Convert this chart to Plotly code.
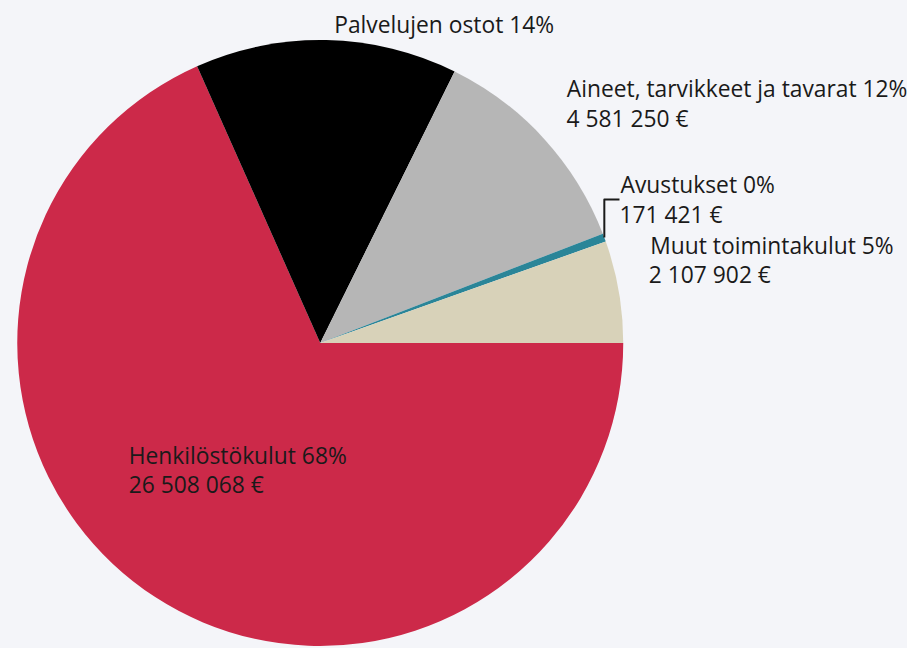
import plotly.graph_objects as go

categories = ["Henkilöstökulut", "Palvelujen ostot", "Aineet, tarvikkeet ja tavarat",
              "Avustukset", "Muut toimintakulut"]
values = [26508068, 5420120, 4581250, 171421, 2107902]
colors = ["#CC2949", "#000000", "#B6B6B6", "#2A8598", "#D8D2B9"]
text_positions = ["inside", "outside", "outside", "outside", "outside"]

# no-break spaces that push the centred value line to the left edge of the label
pad_counts = [14, 0, 37, 9, 21]
# extra empty lines that lift outside labels above their slice edge
lift_lines = [0, 0, 1, 0, 2]
show_value = [True, False, True, True, True]

templates = []
for pad, lift, show in zip(pad_counts, lift_lines, show_value):
    t = "%{label} %{percent:.0%}"
    if show:
        t += "<br>%{value:,.0f} €" + "\u00a0" * pad
    t += "<br>\u00a0" * lift
    templates.append(t)

fig = go.Figure(go.Pie(
    labels=categories,
    values=values,
    sort=False,
    direction="clockwise",
    rotation=90,
    marker=dict(colors=colors, line=dict(width=0)),
    texttemplate=templates,
    textposition=text_positions,
    insidetextorientation="horizontal",
    textfont=dict(family="Open Sans", size=22.8, color="#1a1a1a"),
    showlegend=False,
    hoverinfo="skip",
    domain=dict(x=[0, 636 / 925], y=[0, 1]),
))

fig.update_layout(
    width=925, height=651,
    margin=dict(l=0, r=0, t=40, b=0),
    paper_bgcolor="#F4F5F9",
    plot_bgcolor="#F4F5F9",
    separators=", ",
    uniformtext=dict(minsize=22.8, mode="show"),
    font=dict(family="Open Sans", color="#1a1a1a"),
)

fig.write_html(
    "out.html",
    config={"displayModeBar": False},
    post_script="document.body.style.margin='0';"
                "document.documentElement.style.overflow='hidden';"
                "document.body.style.overflow='hidden';",
)
